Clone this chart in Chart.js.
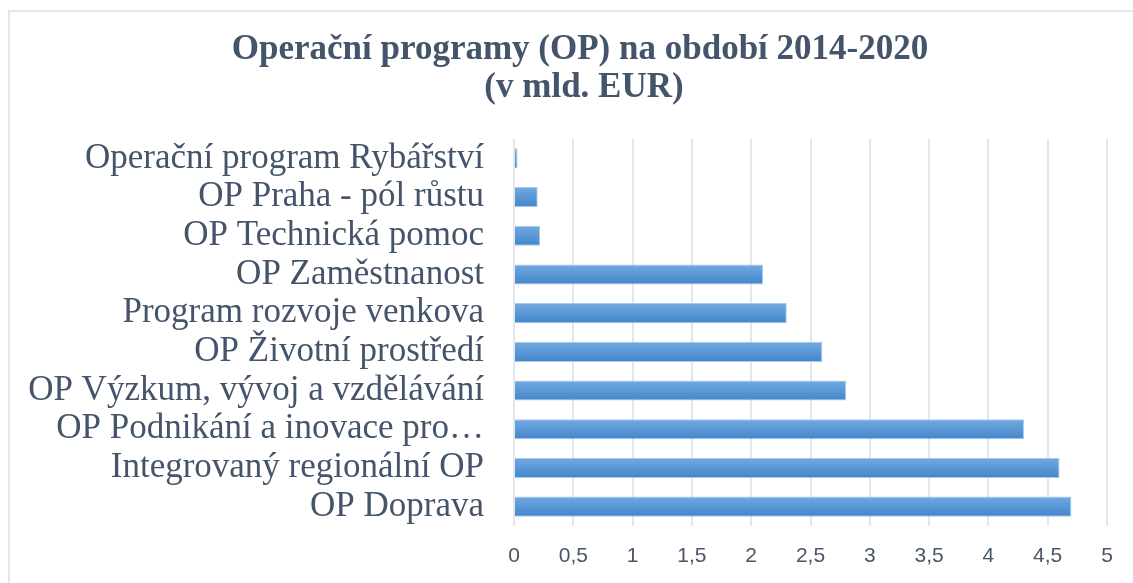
<!DOCTYPE html>
<html>
<head>
  <title>Operační programy 2014-2020</title>
  <style>
    body {
      margin: 0;
      padding: 0;
      background-color: white;
      overflow: hidden;
    }

    #frame {
      position: absolute;
      left: 8px;
      top: 10px;
      width: 1200px;
      height: 700px;
      border-left: 2px solid #e3e6ea;
      border-top: 2px solid #e3e6ea;
    }

    #wrap {
      position: absolute;
      left: 0;
      top: 0;
      width: 1133px;
      height: 583px;
    }
  </style>
</head>
<body>
  <div id="frame"></div>
  <div id="wrap">
    <canvas id="op-chart" width="1133" height="583"></canvas>
  </div>

  <script src="https://cdn.jsdelivr.net/npm/chart.js"></script>
  <script>
    const titleLines = ["Operační programy (OP) na období 2014-2020", "(v mld. EUR)"];
    const programs = [
      "Operační program Rybářství",
      "OP Praha - pól růstu",
      "OP Technická pomoc",
      "OP Zaměstnanost",
      "Program rozvoje venkova",
      "OP Životní prostředí",
      "OP Výzkum, vývoj a vzdělávání",
      "OP Podnikání a inovace pro…",
      "Integrovaný regionální OP",
      "OP Doprava"
    ];
    const amounts = [0.03, 0.2, 0.22, 2.1, 2.3, 2.6, 2.8, 4.3, 4.6, 4.7];
    const tickLabels = ["0", "0,5", "1", "1,5", "2", "2,5", "3", "3,5", "4", "4,5", "5"];

    const textColor = "#44546a";
    const barHalf = 10;

    // each bar gets its own top-to-bottom gradient
    function barFill(context) {
      const chart = context.chart;
      const yScale = chart.scales.y;
      if (!yScale || !chart.chartArea) return "#5b9bd5";
      const mid = yScale.getPixelForTick(context.dataIndex);
      const g = chart.ctx.createLinearGradient(0, mid - barHalf, 0, mid + barHalf);
      g.addColorStop(0, "#72a9e1");
      g.addColorStop(1, "#4386cb");
      return g;
    }

    // title centred over the whole frame, not over the padded chart box
    const frameTitle = {
      id: "frameTitle",
      afterDraw(chart) {
        const c = chart.ctx;
        c.save();
        c.fillStyle = textColor;
        c.font = "bold 35px 'Liberation Serif'";
        c.textAlign = "center";
        c.textBaseline = "middle";
        c.fillText(titleLines[0], 580, 50);
        c.fillText(titleLines[1], 584, 88);
        c.restore();
      }
    };

    const ctx = document.getElementById("op-chart").getContext("2d");
    new Chart(ctx, {
      type: "bar",
      data: {
        labels: programs,
        datasets: [{
          data: amounts,
          backgroundColor: barFill,
          borderColor: "#a9c9ec",
          borderWidth: 1,
          barPercentage: 0.52,
          categoryPercentage: 1
        }]
      },
      plugins: [frameTitle],
      options: {
        indexAxis: "y",
        responsive: false,
        animation: false,
        layout: {
          padding: { left: 0, right: 26, top: 139, bottom: 0 }
        },
        plugins: {
          legend: { display: false },
          tooltip: { enabled: false },
          title: { display: false }
        },
        scales: {
          x: {
            min: 0,
            max: 5,
            ticks: {
              stepSize: 0.5,
              padding: 18,
              color: "#4a5668",
              font: { family: "Liberation Sans", size: 21 },
              callback: (value, index) => tickLabels[index]
            },
            grid: {
              color: "#e3e6ea",
              lineWidth: 2,
              drawTicks: false
            },
            border: { display: false },
            afterFit: (scale) => { scale.height = 57; }
          },
          y: {
            ticks: {
              padding: 30,
              color: textColor,
              font: { family: "Liberation Serif", size: 35 },
              autoSkip: false
            },
            grid: { display: false, drawTicks: false },
            border: { display: false },
            afterFit: (scale) => { scale.width = 514; }
          }
        }
      }
    });
  </script>
</body>
</html>
